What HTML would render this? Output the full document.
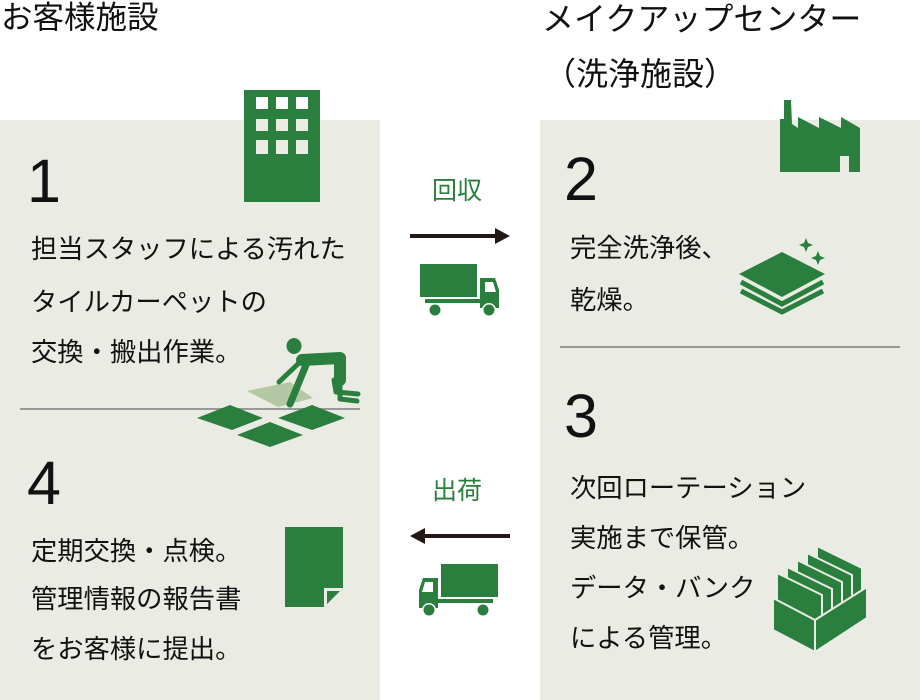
<!DOCTYPE html>
<html><head><meta charset="utf-8"><style>
html,body{margin:0;padding:0;background:#fff;}
svg{display:block;}
text{font-family:"Liberation Sans","Noto Sans CJK JP",sans-serif;}
.t{font-size:26.3px;fill:#111;}
.n{font-size:61px;fill:#111;font-family:"Liberation Sans",sans-serif;}
</style></head><body>
<svg width="920" height="700" viewBox="0 0 920 700" xmlns="http://www.w3.org/2000/svg">
<rect x="0" y="120" width="380" height="580" fill="#eaece4"/>
<rect x="540" y="120" width="380" height="580" fill="#eaece4"/>
<line x1="20" y1="409" x2="360" y2="409" stroke="#999" stroke-width="2"/>
<line x1="560" y1="347" x2="900" y2="347" stroke="#999" stroke-width="2"/>

<text x="1" y="28" style="font-size:31.5px;fill:#111;">お客様施設</text>
<text x="542" y="30" style="font-size:32px;fill:#111;">メイクアップセンター</text>
<text x="544" y="85" style="font-size:32px;fill:#111;">（洗浄施設）</text>

<text class="n" x="27" y="202">1</text>
<text class="t" x="31" y="258">担当スタッフによる汚れた</text>
<text class="t" x="31" y="311">タイルカーペットの</text>
<text class="t" x="31" y="361">交換・搬出作業。</text>

<text class="n" x="27" y="504">4</text>
<text class="t" x="31" y="560">定期交換・点検。</text>
<text class="t" x="31" y="608">管理情報の報告書</text>
<text class="t" x="31" y="658">をお客様に提出。</text>

<text class="n" x="564" y="200">2</text>
<text class="t" x="570" y="257">完全洗浄後、</text>
<text class="t" x="570" y="309">乾燥。</text>

<text class="n" x="564" y="437">3</text>
<text class="t" x="570" y="497">次回ローテーション</text>
<text class="t" x="570" y="547">実施まで保管。</text>
<text class="t" x="570" y="597">データ・バンク</text>
<text class="t" x="570" y="647">による管理。</text>

<text x="432" y="199" style="font-size:25px;fill:#2a7f3e;">回収</text>
<text x="432" y="499" style="font-size:25px;fill:#2a7f3e;">出荷</text>

<line x1="410" y1="236" x2="497" y2="236" stroke="#231815" stroke-width="4"/>
<polygon points="495,228 510,236 495,244" fill="#231815"/>
<line x1="423" y1="536" x2="510" y2="536" stroke="#231815" stroke-width="4"/>
<polygon points="425,528 410,536 425,544" fill="#231815"/>

<g id="truck" fill="#2a7f3e">
<rect x="420" y="264" width="57" height="33"/>
<rect x="425" y="299" width="55" height="4"/>
<polygon points="480,278 495,278 499,290 499,308 480,308"/>
<polygon points="485,282 493,282 496,292 485,292" fill="#fff"/>
<circle cx="435" cy="310" r="7" fill="#fff"/>
<circle cx="435" cy="310" r="5.5"/>
<circle cx="489" cy="310" r="7" fill="#fff"/>
<circle cx="489" cy="310" r="5.5"/>
</g>
<g transform="translate(918,300) scale(-1,1)">
<use href="#truck"/>
</g>

<rect x="244" y="90" width="76" height="112" fill="#2a7f3e"/>
<g fill="#eaece4">
<rect x="256" y="97" width="12" height="12" fill="#fff"/><rect x="276" y="97" width="12" height="12" fill="#fff"/><rect x="296" y="97" width="12" height="12" fill="#fff"/>
<rect x="256" y="119" width="12" height="12"/><rect x="276" y="119" width="12" height="12"/><rect x="296" y="119" width="12" height="12"/>
<rect x="256" y="140" width="12" height="14"/><rect x="276" y="140" width="12" height="14"/><rect x="296" y="140" width="12" height="14"/>
</g>

<polygon points="247,391 290,382 313,398 278,407" fill="#b3c8a4"/>
<g fill="#2a7f3e">
<polygon points="197,418 230,405 263,418 232,430"/>
<polygon points="278,418 312,405 345,418 312,430"/>
<polygon points="237,435 270,422 303,435 270,447"/>
<ellipse cx="294" cy="346" rx="7.5" ry="8"/>
</g>
<g stroke="#2a7f3e" stroke-linecap="round" stroke-linejoin="round" fill="none">
<polyline points="302,360 340,358 340,380" stroke-width="12"/>
<line x1="300" y1="362" x2="279" y2="382" stroke-width="5"/>
<line x1="306" y1="365" x2="290" y2="404" stroke-width="7"/>
<polyline points="334,380 336,392 358,394" stroke-width="5"/>
<polyline points="340,385 340,399 357,401" stroke-width="5"/>
</g>

<polygon points="285,527 343,527 343,588 324,607 285,607" fill="#2a7f3e"/>
<polygon points="343,588 324,607 324,588" fill="#eaece4"/>
<polygon points="340,591 327,604 327,591" fill="#2a7f3e"/>

<polygon fill="#2a7f3e" points="780,172 780,119 784,119 784,100 791,100 792,124 798,128 798,117 819,128 819,117 841,128 841,117 860,128 860,172"/>
<rect x="840" y="156" width="9" height="16" fill="#eaece4"/>

<polygon points="739,274 782,252 825,274 782,297" fill="#2a7f3e"/>
<polyline points="741,282 782,304 823,282" stroke="#2a7f3e" stroke-width="5" fill="none"/>
<polyline points="741,291 782,312 823,291" stroke="#2a7f3e" stroke-width="5" fill="none"/>
<path d="M806,238 L808,243 L813,245 L808,247 L806,252 L804,247 L799,245 L804,243Z" fill="#2a7f3e"/>
<path d="M818,251 L820,256 L825,258 L820,260 L818,265 L816,260 L811,258 L816,256Z" fill="#2a7f3e"/>

<g fill="#2a7f3e" stroke="#eaece4" stroke-width="2">
<polygon points="817,546 862,568 862,610 817,590"/>
<polygon points="807,553 852,575 852,615 807,597"/>
<polygon points="797,560 842,582 842,620 797,604"/>
<polygon points="787,567 832,589 832,625 787,610"/>
<polygon points="777,573 822,595 822,630 777,615"/>
<polygon points="773,598 815,620 815,652 773,630"/>
<polygon points="815,620 867,587 867,618 815,652"/>
</g>
</svg>
</body></html>
